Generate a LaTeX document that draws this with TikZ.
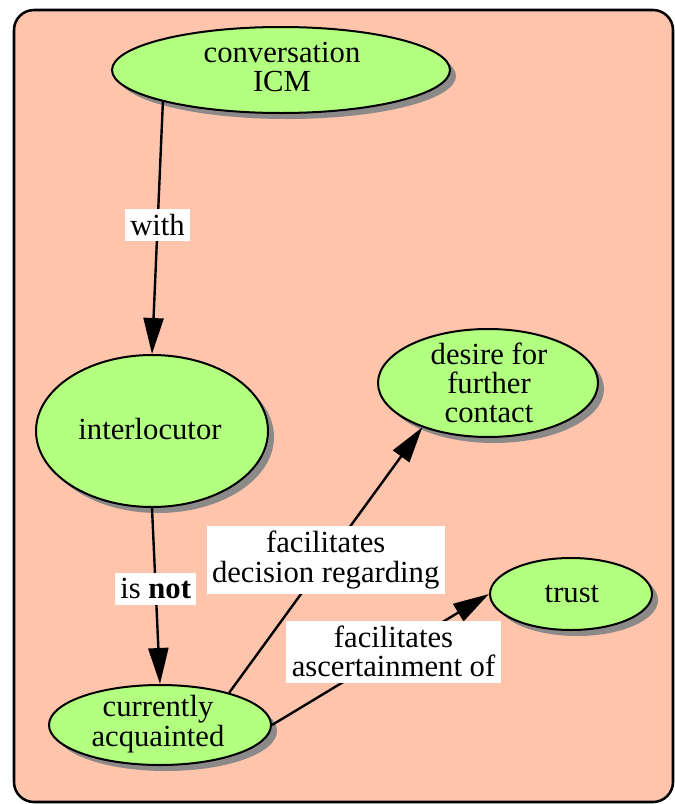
\documentclass[tikz,border=0pt]{standalone}
\usepackage{fontspec}
\setmainfont{LiberationSerif}[Extension=.ttf, UprightFont=*-Regular, BoldFont=*-Bold, ItalicFont=*-Italic, BoldItalicFont=*-BoldItalic]
\usetikzlibrary{shapes.geometric,shadows,arrows.meta}
\definecolor{bgsalmon}{RGB}{255,196,172}
\definecolor{bubblegreen}{RGB}{179,255,128}
\definecolor{shadowgray}{RGB}{140,137,137}
\tikzset{
  bubble/.style={ellipse, draw=black, line width=1.5pt, fill=bubblegreen, inner sep=0pt,
    drop shadow={shadow xshift=4.5pt, shadow yshift=-4.5pt, fill=shadowgray, opacity=1}},
  btext/.style={align=center, font=\fontsize{23}{22}\selectfont, inner sep=0pt},
  link/.style={line width=1.8pt, -{Triangle[length=27pt,width=15pt]}},
  lbl/.style={fill=white, align=center, font=\fontsize{23}{22}\selectfont, inner sep=4pt}
}
\begin{document}
\begin{tikzpicture}[x=0.75pt, y=-0.75pt]
\useasboundingbox (0,0) rectangle (675,804);
\draw[fill=bgsalmon, line width=1.9pt, rounded corners=15pt] (14,10) rectangle (673,802);

\node[bubble, minimum width=253.5pt, minimum height=64.5pt] (icm) at (281,70) {};
\node[btext] (icmt) at (282,67) {conversation\\ICM};

\node[bubble, minimum width=174pt, minimum height=114pt] (inter) at (152,431) {};
\node[btext] (intert) at (150,429) {interlocutor};

\node[bubble, minimum width=165pt, minimum height=81pt] (desire) at (488,383) {};
\node[btext] (desiret) at (489,383) {desire for\\further\\contact};

\node[bubble, minimum width=121.5pt, minimum height=54pt] (trust) at (571,594) {};
\node[btext] (trustt) at (572,594) {trust};

\node[bubble, minimum width=166.5pt, minimum height=60pt] (acq) at (160,725) {};
\node[btext] (acqt) at (158,724) {currently\\acquainted};

\draw[link] (icm.195) -- node[lbl, pos=0.49] (l1) {with} (inter.north);
\draw[link] (inter.south) -- node[lbl, pos=0.46] (l2) {is \textbf{not}} (acq.north);
\draw[link] (acq.25) -- node[lbl, pos=0.5] (l3) {facilitates\\decision regarding} (desire.214);
\draw[link] (acq.east) -- node[lbl, pos=0.56] (l4) {facilitates\\ascertainment of} (trust.west);
\end{tikzpicture}
\end{document}
